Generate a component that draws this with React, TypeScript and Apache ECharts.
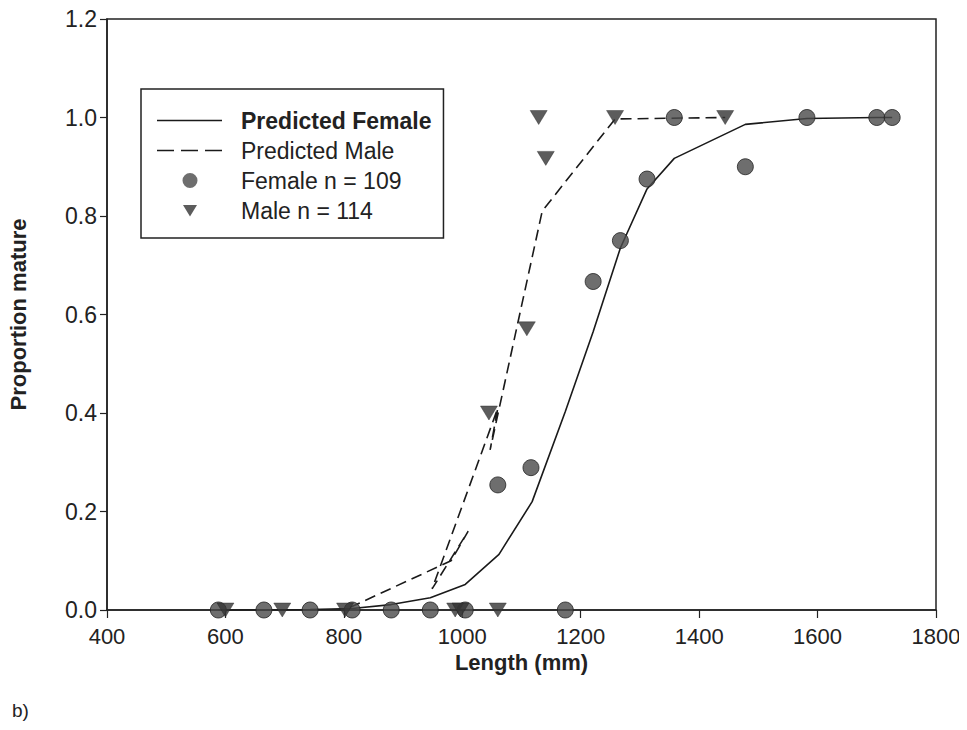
import React, { useEffect, useRef } from "react";
import * as echarts from "echarts";

// Observed data
const femaleLength = [588, 665, 743, 814, 880, 946, 1005, 1174, 1060, 1116, 1221, 1267, 1312, 1358, 1478, 1582, 1700, 1726];
const femaleProp = [0, 0, 0, 0, 0, 0, 0, 0, 0.254, 0.289, 0.667, 0.75, 0.875, 1.0, 0.9, 1.0, 1.0, 1.0];

const maleLength = [600, 696, 802, 988, 997, 1060, 1045, 1109, 1129, 1141, 1258, 1444];
const maleProp = [0, 0, 0, 0, 0, 0, 0.4, 0.571, 1.0, 0.917, 1.0, 1.0];

// Predicted curves
const femalePredLength = [588, 665, 743, 814, 880, 946, 1005, 1062, 1118, 1174, 1221, 1267, 1312, 1358, 1478, 1582, 1700, 1726];
const femalePredProp = [0, 0, 0.001, 0.003, 0.011, 0.025, 0.052, 0.113, 0.22, 0.403, 0.565, 0.735, 0.855, 0.917, 0.986, 0.998, 1.0, 1.0];

const malePredLength = [810, 981, 1010, 949, 1060, 1047, 1135, 1258, 1444];
const malePredProp = [0.005, 0.1, 0.16, 0.043, 0.41, 0.325, 0.81, 0.997, 1.0];

const xTicks = { min: 400, max: 1800, interval: 200 };
const yTicks = { min: 0, max: 1.2, interval: 0.2 };

const FONT = "Liberation Sans, Arial, sans-serif";
const TRI = "path://M0,0 L20,0 L10,16 Z";

// legend icons (bounding box 79 x 16 so they are drawn 1:1)
const BOX = "M0,0 L0.01,0 L0,0.01 Z M79,16 L78.99,16 L79,15.99 Z ";
const ICON_SOLID = "path://" + BOX + "M0,7.2 L65,7.2 L65,8.8 L0,8.8 Z";
const ICON_DASH =
  "path://" + BOX + "M0,7.2 L17,7.2 L17,8.8 L0,8.8 Z M24,7.2 L41,7.2 L41,8.8 L24,8.8 Z M48,7.2 L65,7.2 L65,8.8 L48,8.8 Z";
const ICON_CIRCLE = "path://" + BOX + "M25.5,8 A7.5,7.5 0 1,0 40.5,8 A7.5,7.5 0 1,0 25.5,8 Z";
const ICON_TRI = "path://" + BOX + "M26,2.5 L40,2.5 L33,14 Z";

const zip = (a: number[], b: number[]) => a.map((v, i) => [v, b[i]]);

export default function App() {
  const ref = useRef<HTMLDivElement>(null);
  useEffect(() => {
    if (!ref.current) return;
    const chart = echarts.init(ref.current, undefined, { renderer: "svg" });
    chart.setOption({
      animation: false,
      backgroundColor: "#ffffff",
      textStyle: { fontFamily: FONT },
      grid: {
        left: 107,
        right: 31,
        top: 19,
        bottom: 120,
        outerBoundsMode: "none",
        containLabel: false,
        show: true,
        borderColor: "#222",
        borderWidth: 1.5,
        backgroundColor: "transparent",
      },
      xAxis: {
        type: "value",
        min: xTicks.min,
        max: xTicks.max,
        interval: xTicks.interval,
        name: "Length (mm)",
        nameLocation: "middle",
        nameGap: 40,
        nameTextStyle: { fontSize: 22, fontWeight: "bold", color: "#222", fontFamily: FONT },
        axisLine: { show: true, onZero: false, lineStyle: { color: "#222", width: 1.5 } },
        axisTick: { show: true, inside: false, length: 8, lineStyle: { color: "#222", width: 1.2 } },
        axisLabel: {
          fontSize: 22,
          color: "#222",
          margin: 15,
          fontFamily: FONT,
          formatter: (v: number) => String(v),
        },
        splitLine: { show: false },
      },
      yAxis: {
        type: "value",
        min: yTicks.min,
        max: yTicks.max,
        interval: yTicks.interval,
        name: "Proportion mature",
        nameLocation: "middle",
        nameGap: 78,
        nameTextStyle: { fontSize: 22, fontWeight: "bold", color: "#222", fontFamily: FONT },
        axisLine: { show: true, lineStyle: { color: "#222", width: 1.5 } },
        axisTick: { show: true, inside: false, length: 7, lineStyle: { color: "#222", width: 1.2 } },
        axisLabel: {
          fontSize: 23,
          color: "#222",
          margin: 10,
          fontFamily: FONT,
          formatter: (v: number) => v.toFixed(1),
        },
        splitLine: { show: false },
      },
      legend: {
        orient: "vertical",
        left: 141,
        top: 89,
        borderColor: "#222",
        borderWidth: 1.5,
        padding: [20, 12, 16, 16],
        itemWidth: 79,
        itemHeight: 16,
        itemGap: 7,
        itemStyle: { borderWidth: 0 },
        textStyle: {
          fontSize: 23,
          color: "#222",
          fontFamily: FONT,
          rich: {
            b: { fontSize: 23, fontWeight: "bold", color: "#222", fontFamily: FONT },
          },
        },
        formatter: (name: string) => (name === "Predicted Female" ? "{b|" + name + "}" : name),
        data: [
          { name: "Predicted Female", icon: ICON_SOLID },
          { name: "Predicted Male", icon: ICON_DASH },
          { name: "Female n = 109", icon: ICON_CIRCLE },
          { name: "Male n = 114", icon: ICON_TRI },
        ],
      },
      series: [
        {
          name: "Predicted Female",
          type: "line",
          data: zip(femalePredLength, femalePredProp),
          symbol: "none",
          showSymbol: false,
          lineStyle: { color: "#1a1a1a", width: 1.6, type: "solid" },
          itemStyle: { color: "#1a1a1a" },
          z: 2,
        },
        {
          name: "Predicted Male",
          type: "line",
          data: zip(malePredLength, malePredProp),
          symbol: "none",
          showSymbol: false,
          lineStyle: { color: "#1a1a1a", width: 1.6, type: [11, 6] },
          itemStyle: { color: "#1a1a1a" },
          z: 2,
        },
        {
          name: "Female n = 109",
          type: "scatter",
          data: zip(femaleLength, femaleProp),
          symbol: "circle",
          symbolSize: 16,
          itemStyle: { color: "#4a4a4a", borderColor: "#222", borderWidth: 1 },
          z: 3,
        },
        {
          name: "Male n = 114",
          type: "scatter",
          data: zip(maleLength, maleProp),
          symbol: TRI,
          symbolSize: [17, 14],
          itemStyle: { color: "#333", borderColor: "#222", borderWidth: 0.5 },
          z: 3,
        },
      ],
      graphic: [
        {
          type: "text",
          left: 12,
          top: 701,
          style: { text: "b)", fontSize: 19, fill: "#222", fontFamily: FONT },
        },
      ],
    });
    return () => chart.dispose();
  }, []);
  return <div ref={ref} style={{ width: 967, height: 730, margin: -8 }} />;
}
